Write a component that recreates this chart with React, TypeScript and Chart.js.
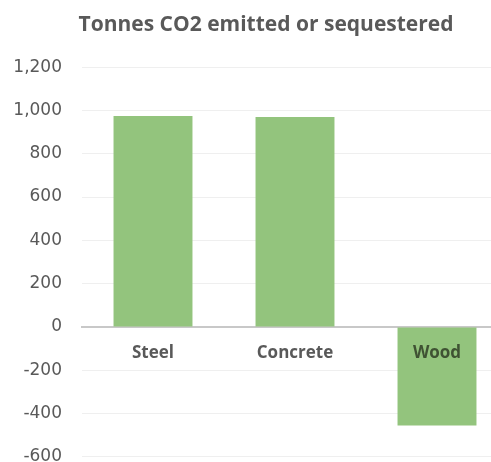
import React, { useEffect, useRef } from "react";
import { Chart, registerables } from "chart.js";

Chart.register(...registerables);

// Material categories and their net CO2 (tonnes): positive = emitted, negative = sequestered
const categories: string[] = ["Steel", "Concrete", "Wood"];
const co2Tonnes: number[] = [975, 970, -455];
const labelColors: string[] = ["#595959", "#595959", "#3f5233"];

const AXIS_MIN = -600;
const AXIS_MAX = 1200;
const AXIS_STEP = 200;

const TEXT = "#595959";
const FONT = "'Open Sans', 'DejaVu Sans', sans-serif";
const TICK_FONT = "'DejaVu Sans', sans-serif";

const W = 532;
const H = 487;

export default function App() {
  const canvasRef = useRef<HTMLCanvasElement | null>(null);

  useEffect(() => {
    const canvas = canvasRef.current;
    if (!canvas) return;
    const chart = new Chart(canvas, {
      type: "bar",
      data: {
        labels: categories,
        datasets: [
          {
            label: "Tonnes CO2",
            data: co2Tonnes,
            backgroundColor: "#93c47d",
            borderWidth: 0,
            categoryPercentage: 1,
            barPercentage: 0.556,
          },
        ],
      },
      options: {
        animation: false,
        responsive: false,
        maintainAspectRatio: false,
        layout: { padding: 0 },
        plugins: {
          legend: { display: false },
          tooltip: { enabled: false },
          title: {
            display: true,
            text: "Tonnes CO2 emitted or sequestered",
            color: TEXT,
            font: { family: FONT, size: 21, weight: "bold" },
            padding: { top: 12, bottom: 30 },
          },
        },
        scales: {
          x: {
            position: { y: 0 },
            grid: { display: false, drawTicks: false },
            border: { display: true, color: "#c8c8c8", width: 2 },
            ticks: {
              z: 1,
              padding: 16,
              color: (ctx: any) => labelColors[ctx.index] ?? TEXT,
              font: { family: FONT, size: 17, weight: "bold" },
            },
          },
          y: {
            min: AXIS_MIN,
            max: AXIS_MAX,
            grid: { color: "#efefef", lineWidth: 1, drawTicks: false },
            border: { display: false },
            ticks: {
              stepSize: AXIS_STEP,
              padding: 20,
              color: TEXT,
              font: { family: TICK_FONT, size: 17 },
            },
            afterFit: (scale: any) => {
              scale.width = 82;
            },
          },
          // empty right-hand gutter so the plot stops short of the canvas edge
          yRight: {
            position: "right",
            min: AXIS_MIN,
            max: AXIS_MAX,
            grid: { display: false, drawTicks: false },
            border: { display: false },
            ticks: { display: false },
            afterFit: (scale: any) => {
              scale.width = 24;
            },
          },
        },
      },
    });
    return () => chart.destroy();
  }, []);

  return (
    <div style={{ position: "absolute", left: 0, top: 0, width: W, height: H, background: "#fff" }}>
      <canvas ref={canvasRef} width={W} height={H} />
    </div>
  );
}
